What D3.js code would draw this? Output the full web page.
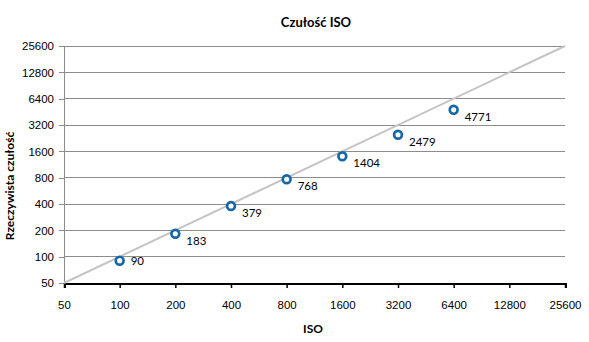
<!DOCTYPE html>
<html>
<head>
<meta charset="utf-8">
<script src="https://cdn.jsdelivr.net/npm/d3@7/dist/d3.min.js"></script>
<style>
  html, body { margin: 0; padding: 0; background: #fff; }
  svg { display: block; font-family: Lato, "Liberation Sans", sans-serif; }
</style>
</head>
<body>
<svg id="chart" width="589" height="342"></svg>
<script>
// Nominal ISO setting vs. measured sensitivity
const isoNominal = [100, 200, 400, 800, 1600, 3200, 6400];
const isoMeasured = [90, 183, 379, 768, 1404, 2479, 4771];
const tickValues = [50, 100, 200, 400, 800, 1600, 3200, 6400, 12800, 25600];
const referenceLine = [50, 25600];

const svg = d3.select("#chart");
const margin = { left: 64, right: 24, top: 46, bottom: 59 };
const W = 589, H = 342;

const x = d3.scaleLog().base(2).domain([50, 25600]).range([margin.left, W - margin.right]);
const y = d3.scaleLog().base(2).domain([50, 25600]).range([H - margin.bottom, margin.top]);

// horizontal gridlines
svg.append("g")
  .selectAll("line")
  .data(tickValues.slice(1))
  .join("line")
  .attr("x1", x(50)).attr("x2", x(25600))
  .attr("y1", d => y(d)).attr("y2", d => y(d))
  .attr("stroke", "#8c8c8c").attr("stroke-width", 1)
  .attr("shape-rendering", "crispEdges");

// y axis
const yAxis = svg.append("g")
  .attr("transform", `translate(${x(50)},0)`)
  .call(d3.axisLeft(y).tickValues(tickValues).tickFormat(d3.format("d")).tickSize(5).tickPadding(5));
yAxis.select(".domain").attr("stroke", "#8c8c8c").attr("shape-rendering", "crispEdges");
yAxis.selectAll(".tick line").attr("stroke", "#8c8c8c").attr("shape-rendering", "crispEdges");
yAxis.selectAll("text").attr("font-size", 11.5).attr("fill", "#000");

// x axis
const xAxis = svg.append("g")
  .attr("transform", `translate(0,${y(50)})`)
  .call(d3.axisBottom(x).tickValues(tickValues).tickFormat(d3.format("d")).tickSize(5).tickPadding(13));
xAxis.select(".domain").attr("stroke", "#000").attr("stroke-width", 2).attr("shape-rendering", "crispEdges");
xAxis.selectAll(".tick line").attr("stroke", "#000").attr("stroke-width", 1.5);
xAxis.selectAll("text").attr("font-size", 11.5).attr("fill", "#000");

// ideal response: measured == nominal
svg.append("line")
  .attr("x1", x(referenceLine[0])).attr("y1", y(referenceLine[0]))
  .attr("x2", x(referenceLine[1])).attr("y2", y(referenceLine[1]))
  .attr("stroke", "#c4c4c4").attr("stroke-width", 2);

const pts = isoNominal.map((v, i) => ({ iso: v, val: isoMeasured[i] }));

// markers
svg.append("g")
  .selectAll("circle")
  .data(pts)
  .join("circle")
  .attr("cx", d => x(d.iso)).attr("cy", d => y(d.val))
  .attr("r", 3.9)
  .attr("fill", "#fff")
  .attr("stroke", "#1766a6")
  .attr("stroke-width", 2.7);

// value labels
svg.append("g")
  .selectAll("text")
  .data(pts)
  .join("text")
  .attr("x", d => x(d.iso) + 11)
  .attr("y", d => y(d.val) + (d.val < 100 ? 4 : 11))
  .attr("font-size", 11.5)
  .attr("fill", "#000")
  .text(d => d.val);

// titles
svg.append("text")
  .attr("x", 316).attr("y", 27)
  .attr("text-anchor", "middle")
  .attr("font-size", 13).attr("font-weight", "bold")
  .text("Czułość ISO");

svg.append("text")
  .attr("x", 313).attr("y", 333)
  .attr("text-anchor", "middle")
  .attr("font-size", 12).attr("font-weight", "bold")
  .text("ISO");

svg.append("text")
  .attr("transform", "translate(14,186) rotate(-90)")
  .attr("text-anchor", "middle")
  .attr("font-size", 12).attr("font-weight", "bold")
  .text("Rzeczywista czułość");
</script>
</body>
</html>
